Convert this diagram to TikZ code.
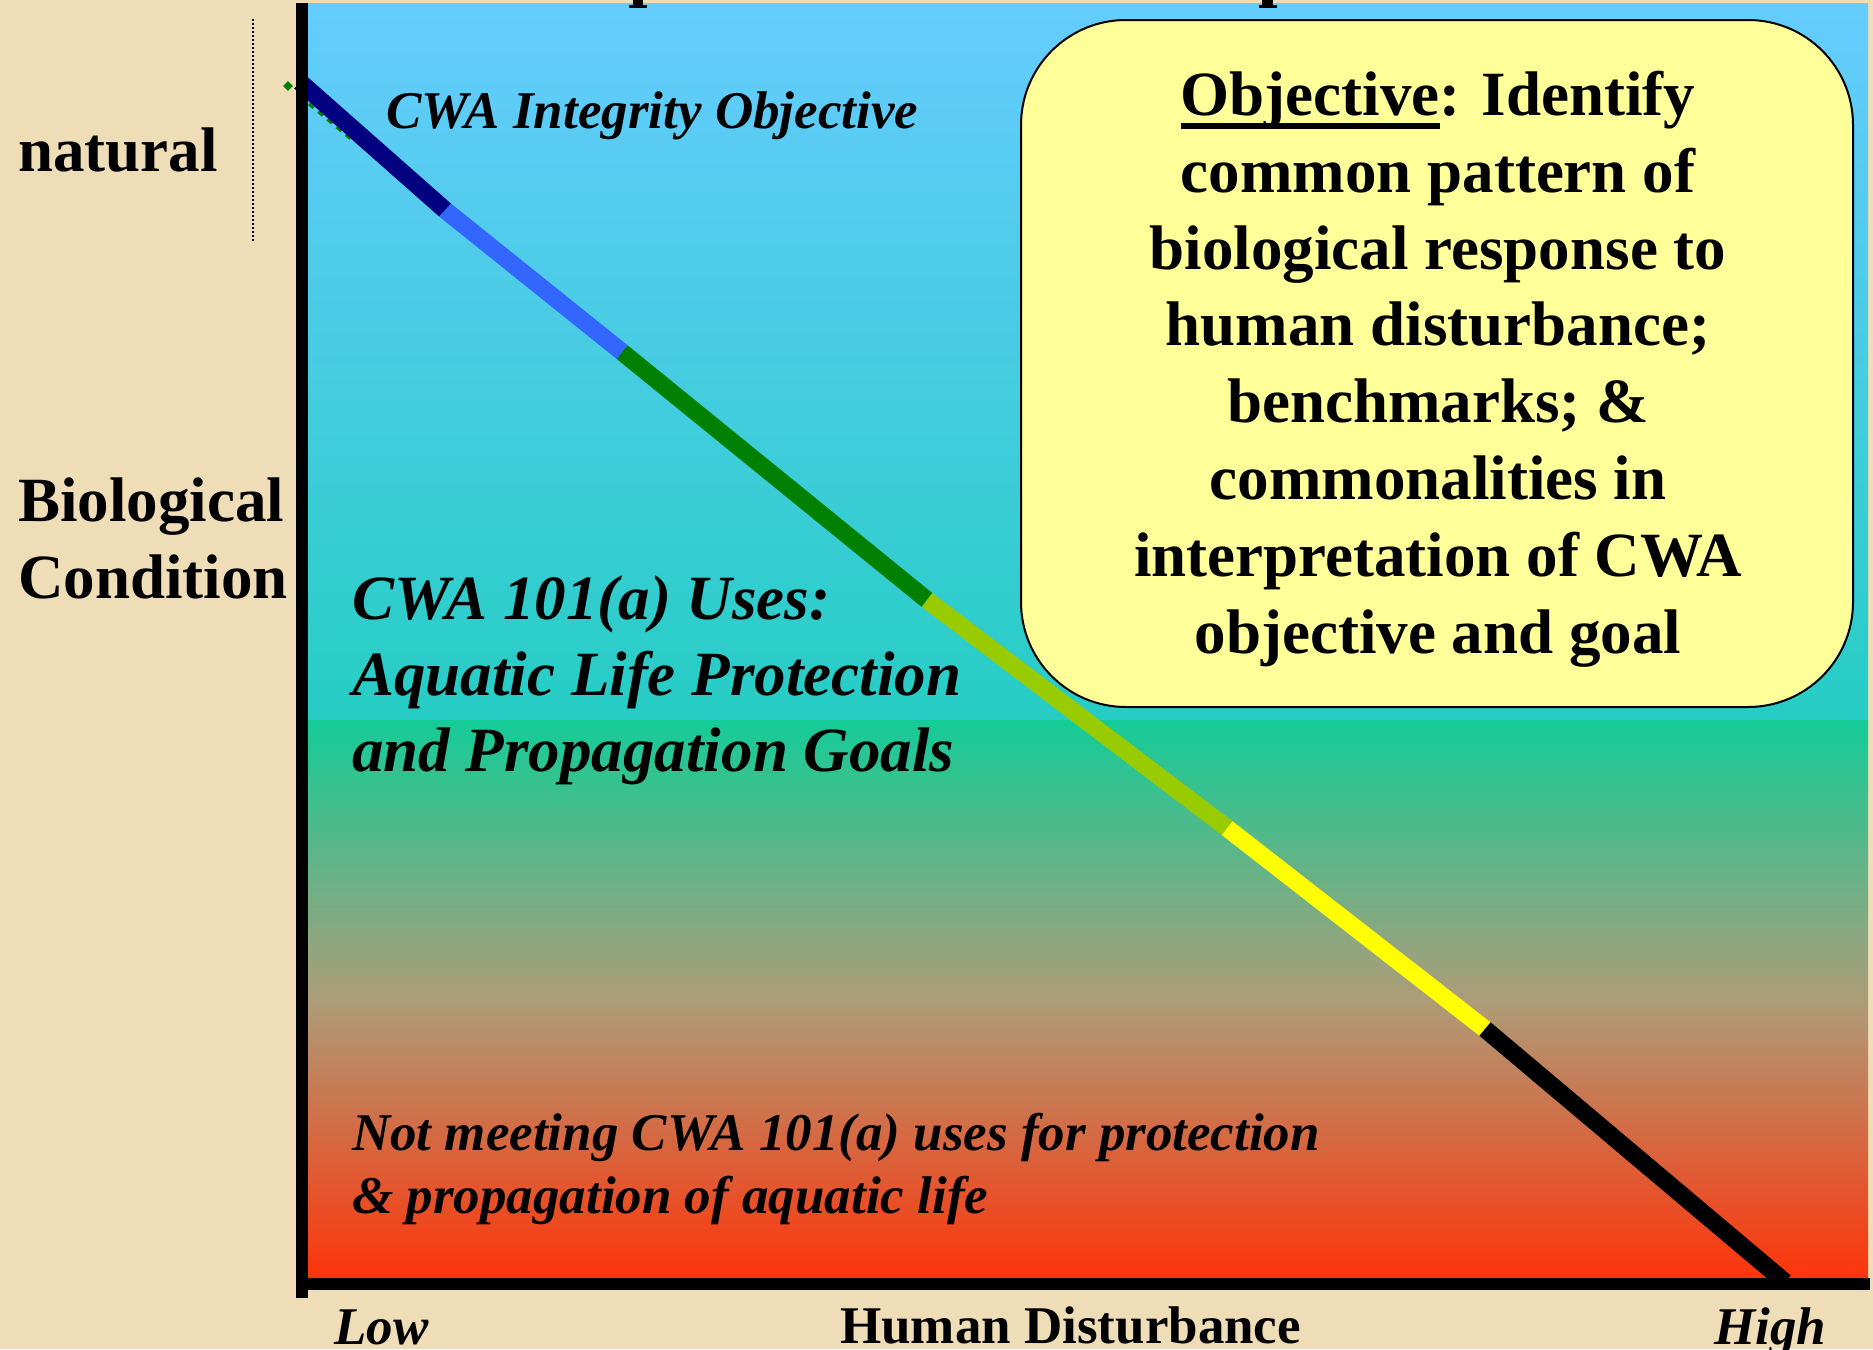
\documentclass[tikz,border=0pt]{standalone}
\usepackage{fontspec}
\setmainfont{Liberation Serif}
\usetikzlibrary{shapes.geometric}

\definecolor{parch}{HTML}{EFDDB7}
\definecolor{skytop}{HTML}{66CCFF}
\definecolor{skybot}{HTML}{26CDC4}
\definecolor{greentop}{HTML}{14CC98}
\definecolor{tanmid}{HTML}{AE9C78}
\definecolor{redbot}{HTML}{FF3208}
\definecolor{boxfill}{HTML}{FFFF99}
\definecolor{navyseg}{HTML}{000080}
\definecolor{blueseg}{HTML}{3366FF}
\definecolor{greenseg}{HTML}{008000}
\definecolor{limeseg}{HTML}{99CC00}
\definecolor{yellowseg}{HTML}{FFFF00}

% thick underline for the box heading
\newcommand\thickul[1]{\setbox0\hbox{#1}\rlap{\rule[-14pt]{\wd0}{6pt}}\box0}

\tikzset{
  big bold/.style={font=\fontsize{63}{76.8}\selectfont\bfseries},
  big slant/.style={font=\fontsize{63}{76}\selectfont\bfseries\itshape},
  small slant/.style={font=\fontsize{53}{63}\selectfont\bfseries\itshape},
  small bold/.style={font=\fontsize{53}{63}\selectfont\bfseries},
  seg/.style={line width=17.5pt, line cap=butt},
  axisline/.style={line width=12pt, line cap=butt},
}

\begin{document}
\begin{tikzpicture}[x=1pt, y=-1pt]
  % page and parchment background
  \fill[parch] (0,0) rectangle (1873,1349);
  \useasboundingbox (0,0) rectangle (1873,1349);

  % graded panel: blue-teal upper part, green-tan-red lower part
  \fill[top color=skytop, bottom color=skybot] (301,3) rectangle (1868,720);
  \fill[top color=greentop, bottom color=tanmid] (301,720) rectangle (1868,1001.5);
  \fill[top color=tanmid, bottom color=redbot] (301,1001) rectangle (1868,1283);

  % descenders of the heading line above the panel
  \fill[black] (633,0) rectangle (643,7);
  \fill[black] (629,5) rectangle (647,7.5);
  \fill[black] (1262,0) rectangle (1273,7);
  \fill[black] (1259,5) rectangle (1277,7.5);

  % reference marks near the natural end
  \draw[line width=1.5pt, dash pattern=on 1.5pt off 2.5pt] (253,19) -- (253,242);
  \node[diamond, fill=greenseg, inner sep=0pt, minimum size=10pt] (mark) at (288,86) {};
  \coordinate (dashA) at (309,104);
  \coordinate (dashB) at (352,140);
  \draw[greenseg, line width=3pt, dash pattern=on 6pt off 6pt] (dashA) -- (dashB);

  % response curve, one colour per condition band
  \coordinate (p0) at (300,82);
  \coordinate (p1) at (445,210);
  \coordinate (p2) at (622,352);
  \coordinate (p3) at (927,600);
  \coordinate (p4) at (1227,828);
  \coordinate (p5) at (1485,1029);
  \coordinate (p6) at (1785,1282);
  \draw[seg, greenseg] (p2) -- (p3);
  \draw[seg, blueseg] (p1) -- (p2);
  \draw[seg, navyseg] (p0) -- (p1);
  \draw[seg, yellowseg] (p4) -- (p5);
  \draw[seg, limeseg] (p3) -- (p4);
  \draw[seg, black] (p5) -- (p6);

  % axes
  \coordinate (ytop) at (301.5,3);
  \coordinate (ybot) at (301.5,1298);
  \coordinate (xstart) at (295.5,1283.5);
  \coordinate (xend) at (1870,1283.5);
  \draw[axisline] (ytop) -- (ybot);
  \draw[axisline] (xstart) -- (xend);

  % objective box
  \node[draw, fill=boxfill, line width=2pt, rounded corners=105pt,
        minimum width=832pt, minimum height=687pt, inner sep=0pt]
        (objbox) at (1437,363.5) {};
  \node[big bold, align=center, anchor=base] (objtext) at (1438,653)
    {\thickul{Objective}: Identify\\
     common pattern of\\
     biological response to\\
     human disturbance;\\
     benchmarks; \&\\
     commonalities in\\
     interpretation of CWA\\
     objective and goal};

  % axis captions
  \node[big bold, anchor=base west, inner sep=0pt] (natural) at (18,171) {natural};
  \node[big bold, anchor=base west, inner sep=0pt, align=left] (biocond) at (18,598)
    {Biological\\Condition};
  \node[small slant, anchor=base west, inner sep=0pt] (low) at (334,1344) {Low};
  \node[small bold, anchor=base west, inner sep=0pt] (hd) at (840,1343) {Human Disturbance};
  \node[small slant, anchor=base west, inner sep=0pt] (high) at (1714,1344) {High};

  % labels inside the panel
  \node[small slant, anchor=base west, inner sep=0pt] (integrity) at (386,128)
    {CWA Integrity Objective};
  \node[big slant, anchor=base west, inner sep=0pt, align=left] (uses) at (352,771)
    {CWA 101(a) Uses:\\Aquatic Life Protection\\and Propagation Goals};
  \node[small slant, anchor=base west, inner sep=0pt, align=left] (notmeet) at (352,1213)
    {Not meeting CWA 101(a) uses for protection\\\& propagation of aquatic life};
\end{tikzpicture}
\end{document}
